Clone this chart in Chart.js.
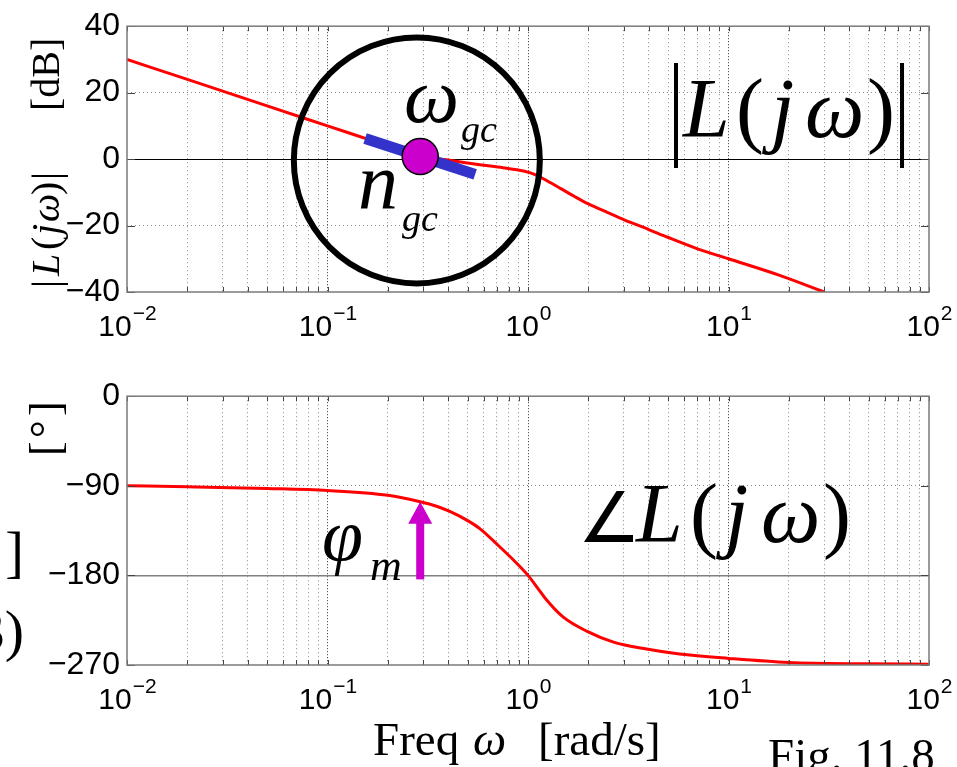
<!DOCTYPE html>
<html>
<head>
<meta charset="utf-8">
<script src="https://cdn.jsdelivr.net/npm/chart.js@4.4.1/dist/chart.umd.min.js"></script>
<style>
  body { margin: 0; background: #fff; width: 957px; height: 767px; overflow: hidden; position: relative; }
  canvas { position: absolute; left: 0; }
  #magChart { top: 0; }
  #phaseChart { top: 370px; }
</style>
</head>
<body>
<canvas id="magChart" width="957" height="345"></canvas>
<canvas id="phaseChart" width="957" height="397"></canvas>
<script>
// Bode plot of L(jw) with the gain crossover marked

// axis labels / decades
const decades = [0.01, 0.1, 1, 10, 100];
const decadeExps = ['\u22122', '\u22121', '0', '1', '2'];
const magTicks = [-40, -20, 0, 20, 40];
const phaseTicks = [-270, -180, -90, 0];

// |L(jw)| in dB
const magFreq = [0.01, 0.02, 0.05, 0.1, 0.2, 0.29, 0.4, 0.575, 0.75, 0.95, 1.1, 1.25, 1.45, 1.7, 2.0, 2.5, 3.0, 4.0, 5.0, 7.0, 10, 18, 30];
const magDb   = [30, 24, 16, 10, 4, 0.8, -0.3, -1.7, -2.6, -3.6, -4.8, -6.6, -8.8, -11.2, -13.5, -16.1, -18.2, -21.2, -23.6, -27, -30, -35, -40];

// angle L(jw) in degrees
const phaseFreq = [0.01, 0.02, 0.05, 0.1, 0.2, 0.29, 0.35, 0.41, 0.5, 0.575, 0.72, 0.88, 1.0, 1.12, 1.23, 1.5, 1.96, 2.67, 3.9, 5.7, 10, 20, 50, 100];
const phaseDeg  = [-90, -91, -92.7, -94.7, -99.5, -106, -110.5, -116, -125, -133, -151, -168, -180, -193, -204, -222, -236, -247, -254, -259, -263.4, -267.5, -268.8, -269.2];

// gain crossover marker, tangent bar, highlight ring
const gcFreq = 0.29;
const gcDb = 0.8;
const gcPhase = -106;
const tangentFreq = [0.154, 0.545];
const tangentDb = [6.2, -4.6];
const ringCenter = [0.279, -0.4];

const gridFreqs = [];
decades.forEach((d, i) => {
  if (i < decades.length - 1) {
    for (let k = 1; k < 10; k++) gridFreqs.push(+(k * d).toPrecision(3));
  } else {
    gridFreqs.push(d);
  }
});

const isDecade = v => Math.abs(Math.log10(v) - Math.round(Math.log10(v))) < 1e-6;
const pts = (xs, ys) => xs.map((x, i) => ({ x: x, y: ys[i] }));
const SERIF = '"Liberation Serif", "DejaVu Serif", serif';
const SANS = '"Liberation Sans", Arial, sans-serif';

function freqAxis(h) {
  return {
    type: 'logarithmic',
    min: decades[0],
    max: decades[decades.length - 1],
    afterBuildTicks: s => { s.ticks = gridFreqs.map(v => ({ value: v })); },
    afterFit: s => { s.height = h; },
    ticks: { display: false },
    grid: {
      drawTicks: false,
      lineWidth: 1,
      color: c => {
        if (!c.tick) return '#000';
        const v = c.tick.value;
        if (v === decades[0] || v === decades[decades.length - 1]) return 'rgba(0,0,0,0)';
        return isDecade(v) ? '#333' : '#8c8c8c';
      }
    },
    border: { display: false, dash: c => (c.tick && isDecade(c.tick.value)) ? [1, 2] : [1, 3] }
  };
}

function valueAxis(ticks, solidAt, solidColor, solidWidth) {
  return {
    min: ticks[0],
    max: ticks[ticks.length - 1],
    afterBuildTicks: s => { s.ticks = ticks.map(v => ({ value: v })); },
    afterFit: s => { s.width = 127; },
    ticks: {
      padding: 7,
      color: '#000',
      font: { family: SANS, size: 32 },
      callback: v => String(v).replace('-', '\u2212')
    },
    grid: {
      drawTicks: false,
      color: c => {
        if (!c.tick) return '#000';
        const v = c.tick.value;
        if (v === ticks[0] || v === ticks[ticks.length - 1]) return 'rgba(0,0,0,0)';
        return v === solidAt ? solidColor : '#8c8c8c';
      },
      lineWidth: c => (c.tick && c.tick.value === solidAt) ? solidWidth : 1
    },
    border: { display: false, dash: c => (c.tick && c.tick.value === solidAt) ? [] : [1, 3] }
  };
}

function put(ctx, text, font, x, y) {
  ctx.font = font;
  ctx.fillText(text, x, y);
}

// box, inward ticks and 10^n labels, MATLAB style
function frame(chart, yTicks) {
  const { ctx, chartArea: a, scales: { x, y } } = chart;
  ctx.save();
  ctx.strokeStyle = '#444';
  ctx.lineWidth = 1;
  gridFreqs.forEach(v => {
    const px = Math.round(x.getPixelForValue(v)) + 0.5;
    ctx.beginPath();
    ctx.moveTo(px, a.bottom); ctx.lineTo(px, a.bottom - 5);
    ctx.moveTo(px, a.top); ctx.lineTo(px, a.top + 5);
    ctx.stroke();
  });
  yTicks.forEach(v => {
    const py = Math.round(y.getPixelForValue(v)) + 0.5;
    ctx.beginPath();
    ctx.moveTo(a.left, py); ctx.lineTo(a.left + 8, py);
    ctx.moveTo(a.right, py); ctx.lineTo(a.right - 8, py);
    ctx.stroke();
  });
  ctx.strokeStyle = '#7a7a7a';
  ctx.lineWidth = 1.5;
  ctx.strokeRect(a.left, a.top, a.right - a.left, a.bottom - a.top);

  ctx.fillStyle = '#000';
  ctx.textBaseline = 'alphabetic';
  decades.forEach((d, i) => {
    const px = x.getPixelForValue(d);
    ctx.font = '30px ' + SANS;
    const w1 = ctx.measureText('10').width;
    ctx.font = '21px ' + SANS;
    const w2 = ctx.measureText(decadeExps[i]).width;
    const x0 = px - (w1 + w2) / 2;
    put(ctx, '10', '30px ' + SANS, x0, a.bottom + 44);
    put(ctx, decadeExps[i], '21px ' + SANS, x0 + w1 + 1, a.bottom + 28);
  });
  ctx.restore();
}

const magDecor = {
  id: 'magDecor',
  afterDatasetsDraw(chart) {
    const { ctx, scales: { x, y } } = chart;
    ctx.save();
    ctx.strokeStyle = '#000';
    ctx.lineWidth = 6;
    ctx.beginPath();
    ctx.arc(x.getPixelForValue(ringCenter[0]), y.getPixelForValue(ringCenter[1]), 123, 0, Math.PI * 2);
    ctx.stroke();
    ctx.restore();

    frame(chart, magTicks);

    ctx.save();
    ctx.fillStyle = '#000';
    put(ctx, '\u03c9', 'italic 78px ' + SERIF, 404, 122);
    put(ctx, 'gc', 'italic 38px ' + SERIF, 461, 142);
    put(ctx, 'n', 'italic 80px ' + SERIF, 358, 208);
    put(ctx, 'gc', 'italic 38px ' + SERIF, 402, 231);

    // |L(jw)| on the right
    ctx.fillRect(674, 63, 4, 105);
    ctx.fillRect(900, 63, 4, 105);
    put(ctx, 'L', 'italic 84px ' + SERIF, 683, 137);
    put(ctx, '(', '84px ' + SERIF, 736, 137);
    put(ctx, 'j', 'italic 84px ' + SERIF, 771, 137);
    put(ctx, '\u03c9', 'italic 84px ' + SERIF, 805, 137);
    put(ctx, ')', '84px ' + SERIF, 867, 137);

    // vertical axis label
    ctx.translate(59, 288);
    ctx.rotate(-Math.PI / 2);
    put(ctx, '|', '40px ' + SERIF, 0, 0);
    put(ctx, 'L', 'italic 40px ' + SERIF, 12, 0);
    put(ctx, '(', '40px ' + SERIF, 38, 0);
    put(ctx, 'j', 'italic 40px ' + SERIF, 53, 0);
    put(ctx, '\u03c9', 'italic 40px ' + SERIF, 66, 0);
    put(ctx, ')', '40px ' + SERIF, 93, 0);
    put(ctx, '|', '40px ' + SERIF, 108, 0);
    put(ctx, '[dB]', '40px ' + SERIF, 177, 0);
    ctx.restore();
  }
};

const phaseDecor = {
  id: 'phaseDecor',
  afterDatasetsDraw(chart) {
    const { ctx, scales: { x, y } } = chart;
    const top = 370; // canvas offset on the page

    // phase margin arrow
    const ax = x.getPixelForValue(gcFreq);
    const yTip = y.getPixelForValue(gcPhase);
    const yBase = y.getPixelForValue(-184);
    ctx.save();
    ctx.fillStyle = '#cc00cc';
    ctx.fillRect(ax - 4, yTip + 20, 8, yBase - yTip - 20);
    ctx.beginPath();
    ctx.moveTo(ax, yTip);
    ctx.lineTo(ax - 12, yTip + 22);
    ctx.lineTo(ax + 12, yTip + 22);
    ctx.closePath();
    ctx.fill();
    ctx.restore();

    frame(chart, phaseTicks);

    ctx.save();
    ctx.fillStyle = '#000';
    put(ctx, '\u03c6', 'italic 74px ' + SERIF, 322, 560 - top);
    put(ctx, 'm', 'italic 44px ' + SERIF, 370, 580 - top);

    put(ctx, '\u2220', '70px "DejaVu Sans"', 578, 542 - top);
    put(ctx, 'L', 'italic 84px ' + SERIF, 636, 542 - top);
    put(ctx, '(', '84px ' + SERIF, 690, 542 - top);
    put(ctx, 'j', 'italic 84px ' + SERIF, 725, 542 - top);
    put(ctx, '\u03c9', 'italic 84px ' + SERIF, 761, 542 - top);
    put(ctx, ')', '84px ' + SERIF, 823, 542 - top);

    put(ctx, 'Freq', '47px ' + SERIF, 373, 755 - top);
    put(ctx, '\u03c9', 'italic 47px ' + SERIF, 473, 755 - top);
    put(ctx, '[rad/s]', '47px ' + SERIF, 538, 755 - top);
    put(ctx, 'Fig. 11.8', '47px ' + SERIF, 768, 771 - top);

    // cut-off margin text from the page
    ctx.textAlign = 'right';
    put(ctx, ']', '56px ' + SERIF, 24, 571 - top);
    put(ctx, '(3)', '58px ' + SERIF, 24, 650 - top);
    ctx.textAlign = 'left';

    ctx.translate(60, 456 - top);
    ctx.rotate(-Math.PI / 2);
    put(ctx, '[', '44px ' + SERIF, 0, 0);
    put(ctx, '\u00b0', '44px ' + SERIF, 18, 0);
    put(ctx, ']', '44px ' + SERIF, 40, 0);
    ctx.restore();
  }
};

const magChart = new Chart(document.getElementById('magChart').getContext('2d'), {
  type: 'line',
  data: {
    datasets: [
      {
        data: [{ x: gcFreq, y: gcDb }],
        showLine: false,
        pointRadius: 18,
        pointBackgroundColor: '#cc00cc',
        pointBorderColor: '#000',
        pointBorderWidth: 1.5,
        order: 0
      },
      {
        data: pts(tangentFreq, tangentDb),
        borderColor: '#3333cc',
        borderWidth: 11,
        borderCapStyle: 'butt',
        pointRadius: 0,
        order: 1
      },
      {
        data: pts(magFreq, magDb),
        borderColor: '#ff0000',
        borderWidth: 3,
        pointRadius: 0,
        cubicInterpolationMode: 'monotone',
        order: 2
      }
    ]
  },
  options: {
    responsive: false,
    animation: false,
    events: [],
    layout: { padding: { left: 0, right: 28, top: 24, bottom: 0 } },
    plugins: { legend: { display: false }, tooltip: { enabled: false } },
    scales: {
      x: freqAxis(53),
      y: valueAxis(magTicks, 0, '#000', 1)
    }
  },
  plugins: [magDecor]
});

const phaseChart = new Chart(document.getElementById('phaseChart').getContext('2d'), {
  type: 'line',
  data: {
    datasets: [{
      data: pts(phaseFreq, phaseDeg),
      borderColor: '#ff0000',
      borderWidth: 3,
      pointRadius: 0,
      cubicInterpolationMode: 'monotone'
    }]
  },
  options: {
    responsive: false,
    animation: false,
    events: [],
    layout: { padding: { left: 0, right: 28, top: 26, bottom: 0 } },
    plugins: { legend: { display: false }, tooltip: { enabled: false } },
    scales: {
      x: freqAxis(102),
      y: valueAxis(phaseTicks, -180, '#808080', 1.5)
    }
  },
  plugins: [phaseDecor]
});
</script>
</body>
</html>
